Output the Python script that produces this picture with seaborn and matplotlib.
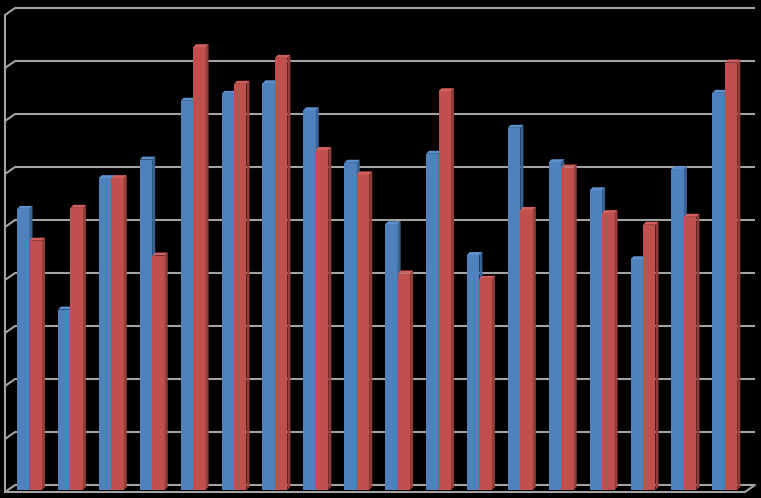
import matplotlib
matplotlib.use("Agg")
import matplotlib.pyplot as plt
from matplotlib.patches import Polygon
import seaborn as sns
import pandas as pd
import numpy as np

categories = ["1", "2", "3", "4", "5", "6", "7", "8", "9",
              "10", "11", "12", "13", "14", "15", "16", "17", "18"]
series_a = [5.21, 3.31, 5.79, 6.14, 7.25, 7.38, 7.58, 7.07, 6.08,
            4.92, 6.25, 4.34, 6.74, 6.09, 5.56, 4.26, 5.96, 7.40]
series_b = [4.61, 5.23, 5.79, 4.33, 8.26, 7.57, 8.06, 6.32, 5.86,
            3.99, 7.43, 3.89, 5.19, 5.99, 5.13, 4.91, 5.06, 7.97]
series_names = ["Series A", "Series B"]
gridline_values = [0, 1, 2, 3, 4, 5, 6, 7, 8, 9]

BLUE = "#4f81bd"
RED = "#c0504d"
SIDE = {BLUE: "#3b6496", RED: "#943e3b"}
TOP = {BLUE: "#5d8fcc", RED: "#cf605c"}
GRID = "#a3a3a3"

df = pd.DataFrame({
    "category": categories * 2,
    "value": series_a + series_b,
    "series": [series_names[0]] * len(categories) + [series_names[1]] * len(categories),
})

sns.set_theme(style="white")
fig = plt.figure(figsize=(7.61, 4.98), dpi=100, facecolor="black")
ax = fig.add_axes([0, 0, 1, 1])
ax.set_facecolor("black")

sns.barplot(data=df, x="category", y="value", hue="series",
            palette=[BLUE, RED], saturation=1, width=0.611, gap=0,
            dodge=True, legend=False, ax=ax, zorder=3)

# pixel-based geometry helpers (x unit = 40.9 px, y unit = 53 px)
px_x = 1 / 40.9
px_y = 1 / 53.0
x_left = -29.5 * px_x
x_right = (761 - 29.5) * px_x
y_bottom = (485 - 498) * px_y
y_top = 485 * px_y

dx, dy = 3 * px_x, 3 * px_y
bar_bottom = -5 * px_y

for p in list(ax.patches):
    fc = matplotlib.colors.to_hex(p.get_facecolor())
    key = BLUE if fc == BLUE else RED
    z = 3 if key == BLUE else 5
    h = p.get_height()
    x0 = p.get_x()
    x1 = x0 + p.get_width()
    p.set_y(bar_bottom)
    p.set_height(h - bar_bottom)
    p.set_zorder(z)
    p.set_edgecolor("none")
    side = Polygon([(x1, bar_bottom), (x1 + dx, bar_bottom + dy),
                    (x1 + dx, h + dy), (x1, h)], closed=True,
                   facecolor=SIDE[key], edgecolor="none", zorder=z + 0.5)
    top = Polygon([(x0, h), (x1, h), (x1 + dx, h + dy), (x0 + dx, h + dy)],
                  closed=True, facecolor=TOP[key], edgecolor="none", zorder=z + 0.6)
    ax.add_patch(side)
    ax.add_patch(top)

# back-wall gridlines and left wall
wall_x = (5 - 29.5) * px_x
grid_x0 = (15 - 29.5) * px_x
grid_x1 = (755 - 29.5) * px_x
depth_y = 7 * px_y
for g in gridline_values:
    ax.plot([grid_x0, grid_x1], [g, g], color=GRID, lw=1.5, zorder=1,
            solid_capstyle="butt")
    ax.plot([wall_x, grid_x0], [g - depth_y, g], color=GRID, lw=1.5, zorder=1)
ax.plot([wall_x, wall_x], [gridline_values[-1] - depth_y, -depth_y],
        color=GRID, lw=1.5, zorder=1)
# floor front edge
floor_x1 = (745 - 29.5) * px_x
ax.plot([wall_x, floor_x1, grid_x1], [-depth_y, -depth_y, 0],
        color=GRID, lw=1.5, zorder=2)

ax.set_xlim(x_left, x_right)
ax.set_ylim(y_bottom, y_top)
ax.set_axis_off()

fig.savefig("out.png", dpi=100, facecolor="black")
